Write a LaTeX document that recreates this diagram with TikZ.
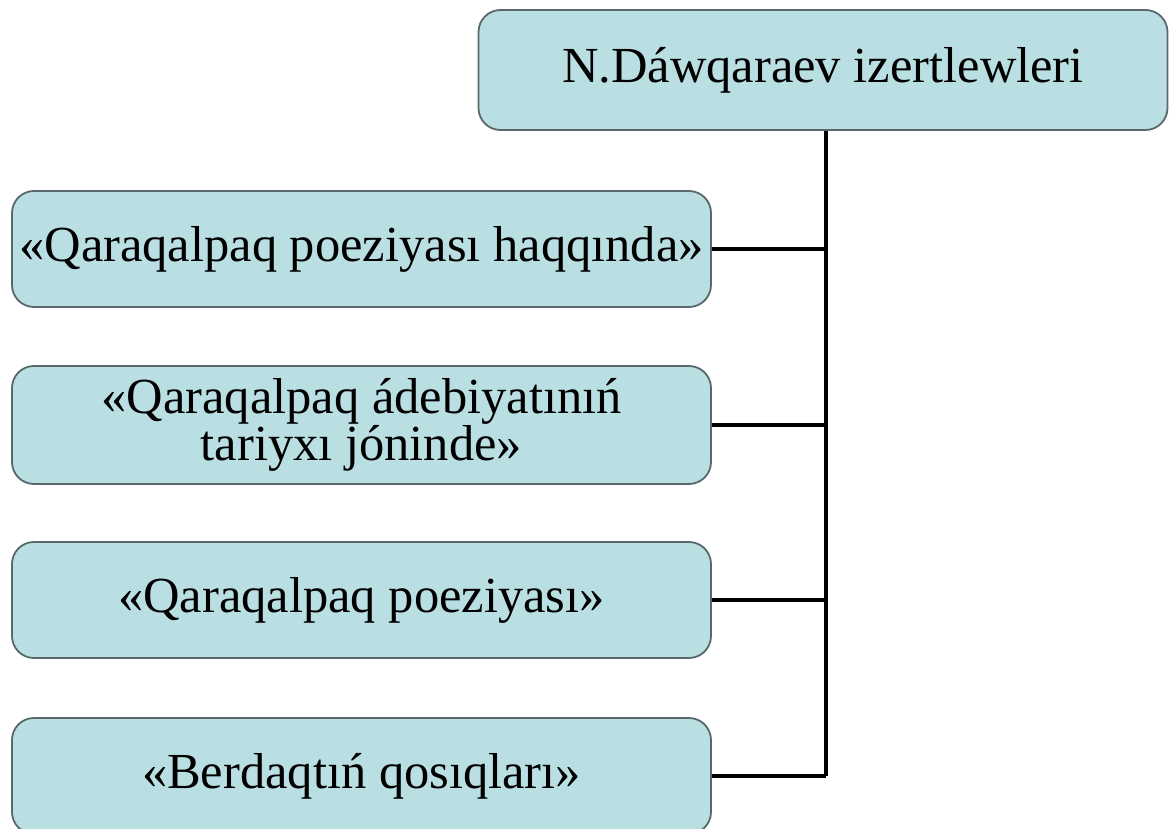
\documentclass[tikz,border=0pt]{standalone}
\usepackage{fontspec}
\setmainfont{Liberation Serif}
\usepackage{tikz}
\usetikzlibrary{positioning}
\tikzset{work/.style = {draw=boxline, fill=boxfill, rounded corners = 22, line width = 1.8,
    inner sep = 0, align = center, font = \fontsize{50.5}{47}\selectfont}}
\definecolor{boxfill}{RGB}{186, 223, 227}
\definecolor{boxline}{RGB}{88, 104, 108}

\begin{document}
\begin{tikzpicture}[x = 1pt, y = -1pt]
      \useasboundingbox (0, 0) rectangle (1170, 829);
      \node [work, minimum width = 689, minimum height = 120] (top) at (823, 70) {N.Dáwqaraev izertlewleri};

      \node [work, minimum width = 699, minimum height = 116] (w1) at (361.5, 249) {«Qaraqalpaq poeziyası haqqında»};
      \node [work, minimum width = 699, minimum height = 118] (w2) at (361.5, 425) {«Qaraqalpaq ádebiyatınıń\\tariyxı jóninde»};
      \node [work, minimum width = 699, minimum height = 116] (w3) at (361.5, 600) {«Qaraqalpaq poeziyası»};
      \node [work, minimum width = 699, minimum height = 116] (w4) at (361.5, 776) {«Berdaqtıń qosıqları»};

      \coordinate (bus) at (826, 776);
      \draw [line width = 3.2] (top.south -| bus) -- (bus);
      \foreach \w in {w1,w2,w3,w4} {
        \draw [line width = 3.2] (\w.east) -- (\w.east -| bus);
      }
    \end{tikzpicture}
\end{document}
